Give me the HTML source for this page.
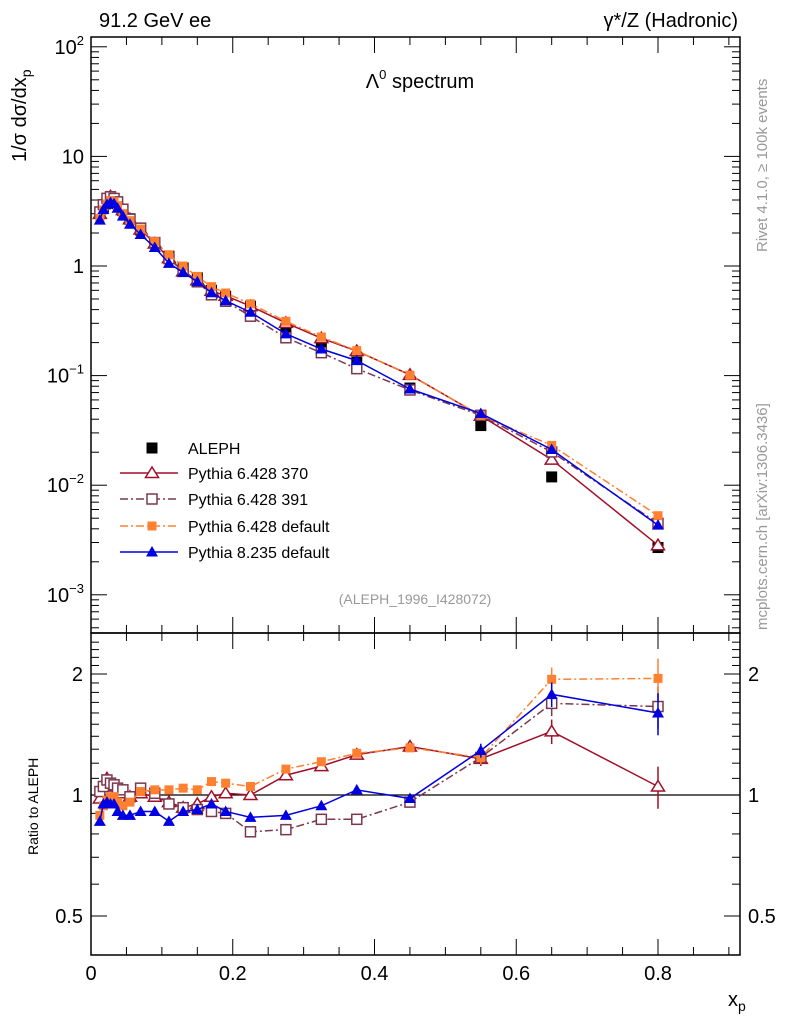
<!DOCTYPE html>
<html><head><meta charset="utf-8"><style>
body{margin:0;background:#fff}
svg{display:block;font-family:"Liberation Sans",sans-serif}
</style></head><body>
<svg id="c" width="786" height="1024" viewBox="0 0 786 1024">
<text x="99" y="27" font-size="20">91.2 GeV ee</text>
<text x="738" y="27" font-size="20" text-anchor="end">γ*/Z (Hadronic)</text>
<text x="420" y="88" font-size="20" text-anchor="middle">Λ<tspan dy="-9" font-size="13">0</tspan><tspan dy="9"> spectrum</tspan></text>
<text transform="translate(26,162) rotate(-90)" font-size="20">1/σ  dσ/dx<tspan dy="5" font-size="14">p</tspan></text>
<text transform="translate(38,855) rotate(-90)" font-size="14">Ratio to ALEPH</text>
<text x="728" y="1006" font-size="20">x<tspan dy="5" font-size="14">p</tspan></text>
<text transform="translate(767,252) rotate(-90)" font-size="15" fill="#999">Rivet 4.1.0, ≥ 100k events</text>
<text transform="translate(767,630) rotate(-90)" font-size="15" fill="#999">mcplots.cern.ch [arXiv:1306.3436]</text>
<text x="415" y="604" font-size="14" fill="#999" text-anchor="middle">(ALEPH_1996_I428072)</text>
<g id="g"></g>
</svg>
<script>
const xs=[0.0125,0.0175,0.0225,0.0275,0.0325,0.0375,0.045,0.055,0.07,0.09,0.11,0.13,0.15,0.17,0.19,0.225,0.275,0.325,0.375,0.45,0.55,0.65,0.8];
const aleph=[3.05,3.45,3.8,4.0,3.9,3.7,3.2,2.7,2.13,1.62,1.23,0.96,0.78,0.6,0.53,0.43,0.27,0.186,0.133,0.077,0.035,0.0119,0.0027];
const r370=[0.98,1.06,1.1,1.08,1.05,1.03,1.01,0.99,1.01,0.99,0.96,0.93,0.95,0.99,1.01,1.0,1.12,1.18,1.26,1.32,1.23,1.44,1.05];
const r391=[1.02,1.05,1.09,1.07,1.06,1.04,1.03,0.99,1.04,1.01,0.95,0.93,0.92,0.91,0.9,0.81,0.82,0.87,0.87,0.96,1.24,1.69,1.66];
const rdef6=[0.89,0.94,0.97,0.99,0.99,0.96,0.94,0.96,1.02,1.03,1.03,1.04,1.03,1.08,1.07,1.05,1.16,1.21,1.27,1.31,1.24,1.94,1.95];
const r8=[0.86,0.95,0.96,0.95,0.95,0.91,0.89,0.89,0.91,0.91,0.86,0.91,0.92,0.95,0.91,0.88,0.89,0.94,1.03,0.98,1.29,1.78,1.6];
const errTail=[0.04,0.07,0.12];
const xTicks=[0,0.2,0.4,0.6,0.8];
const yTicks=[0.001,0.01,0.1,1,10,100];
const rTicks=[0.5,1,2];

const L=91,R=740,T=37,M=633,B=955;
const X=v=>L+v*708.75;
const Y=v=>266-Math.log10(v)*109.6;
const RY=v=>795-Math.log2(v)*121;
const NS='http://www.w3.org/2000/svg';
const g=document.getElementById('g');
function el(t,a,p){const e=document.createElementNS(NS,t);for(const k in a)e.setAttribute(k,a[k]);(p||g).appendChild(e);return e;}
function ln(x1,y1,x2,y2,s,w){return el('line',{x1,y1,x2,y2,stroke:s||'#000','stroke-width':w||1});}

let f1=el('rect',{x:L,y:T,width:R-L,height:M-T,fill:'none',stroke:'#000','stroke-width':1.5});


let f2=el('rect',{x:L,y:M,width:R-L,height:B-M,fill:'none',stroke:'#000','stroke-width':1.5});


for(let v=0;v<=0.92;v+=0.05){const x=X(v);const major=Math.abs(v/0.2-Math.round(v/0.2))<1e-6;const h=major?16:8;
 [T,M].forEach(y=>{ln(x,y,x,y+h);});[M,B].forEach(y=>{ln(x,y,x,y-h);});}
xTicks.forEach(v=>{const t=el('text',{x:X(v),y:980,'font-size':20,'text-anchor':'middle'});t.textContent=v===0?'0':v.toFixed(1);
 
 });
for(let d=-4;d<=2;d++){for(let m=1;m<10;m++){const v=m*Math.pow(10,d);const y=Y(v);if(y<T||y>M)continue;const h=m===1?16:8;ln(L,y,L+h,y);ln(R,y,R-h,y);}}
const ylab={0.001:'10<tspan dy="-9" font-size="13">−3</tspan>',0.01:'10<tspan dy="-9" font-size="13">−2</tspan>',0.1:'10<tspan dy="-9" font-size="13">−1</tspan>',1:'1',10:'10',100:'10<tspan dy="-9" font-size="13">2</tspan>'};
yTicks.forEach(v=>{const t=el('text',{x:84,y:Y(v)+7,'font-size':20,'text-anchor':'end'});t.innerHTML=ylab[v];
 
 });
for(let v=0.4;v<=2.5;v+=0.1){const y=RY(v);if(y<M||y>B)continue;const maj=rTicks.some(r=>Math.abs(r-v)<1e-6);const h=maj?16:8;ln(L,y,L+h,y);ln(R,y,R-h,y);}
rTicks.forEach(v=>{[[83,'end'],[748,'start']].forEach(([x,a])=>{const t=el('text',{x,y:RY(v)+7,'font-size':20,'text-anchor':a});t.textContent=String(v);
 
 });});
ln(L,RY(1),R,RY(1),'#000',1.3);

function marker(x,y,type,c,p){
 if(type==='sq')return el('rect',{x:x-5.5,y:y-5.5,width:11,height:11,fill:c},p);
 if(type==='osq')return el('rect',{x:x-5,y:y-5,width:10,height:10,fill:'#fff',stroke:c,'stroke-width':1.5},p);
 if(type==='fsq')return el('rect',{x:x-4.5,y:y-4.5,width:9,height:9,fill:c},p);
 if(type==='tri')return el('path',{d:`M${x},${y-6}L${x+6},${y+4.5}L${x-6},${y+4.5}Z`,fill:c},p);
 if(type==='otri')return el('path',{d:`M${x},${y-6}L${x+6.5},${y+4.5}L${x-6.5},${y+4.5}Z`,fill:'#fff',stroke:c,'stroke-width':1.5},p);
}
const series=[
 {name:'series-pythia6-370',r:r370,c:'#a01028',m:'otri',dash:''},
 {name:'series-pythia6-391',r:r391,c:'#7a3850',m:'osq',dash:'8,3,2,3'},
 {name:'series-pythia6-default',r:rdef6,c:'#ff8030',m:'fsq',dash:'8,3,2,3'},
 {name:'series-pythia8-default',r:r8,c:'#0000e0',m:'tri',dash:''}];
const ga=el('g',{});


xs.forEach((x,i)=>marker(X(x),Y(aleph[i]),'sq','#000',ga));
series.forEach(s=>{
 const gm=el('g',{});
 
 
 const pm=xs.map((x,i)=>X(x)+','+Y(aleph[i]*s.r[i])).join(' ');
 el('polyline',{points:pm,fill:'none',stroke:s.c,'stroke-width':1.5,'stroke-dasharray':s.dash},gm);
 xs.forEach((x,i)=>marker(X(x),Y(aleph[i]*s.r[i]),s.m,s.c,gm));
 const gr=el('g',{});
 
 
 const pr=xs.map((x,i)=>X(x)+','+RY(s.r[i])).join(' ');
 el('polyline',{points:pr,fill:'none',stroke:s.c,'stroke-width':1.5,'stroke-dasharray':s.dash},gr);
 xs.forEach((x,i)=>{const k=i-(xs.length-3);if(k>=0){const e=errTail[k]*s.r[i];gr.appendChild(ln(X(x),RY(s.r[i]-e),X(x),RY(s.r[i]+e),s.c,1.5));}
  marker(X(x),RY(s.r[i]),s.m,s.c,gr);});
});
const labels=['ALEPH','Pythia 6.428 370','Pythia 6.428 391','Pythia 6.428 default','Pythia 8.235 default'];
const ly=[448,473,499,526,552];
labels.forEach((lab,i)=>{
 const gl=el('g',{});
 
 
 if(i===0)marker(152,ly[i],'sq','#000',gl);
 else{const s=series[i-1];el('line',{x1:120,y1:ly[i],x2:178,y2:ly[i],stroke:s.c,'stroke-width':1.5,'stroke-dasharray':s.dash},gl);marker(152,ly[i],s.m,s.c,gl);}
 const t=el('text',{x:188,y:ly[i]+6,'font-size':16},gl);t.textContent=lab;
});
</script>
</body></html>
